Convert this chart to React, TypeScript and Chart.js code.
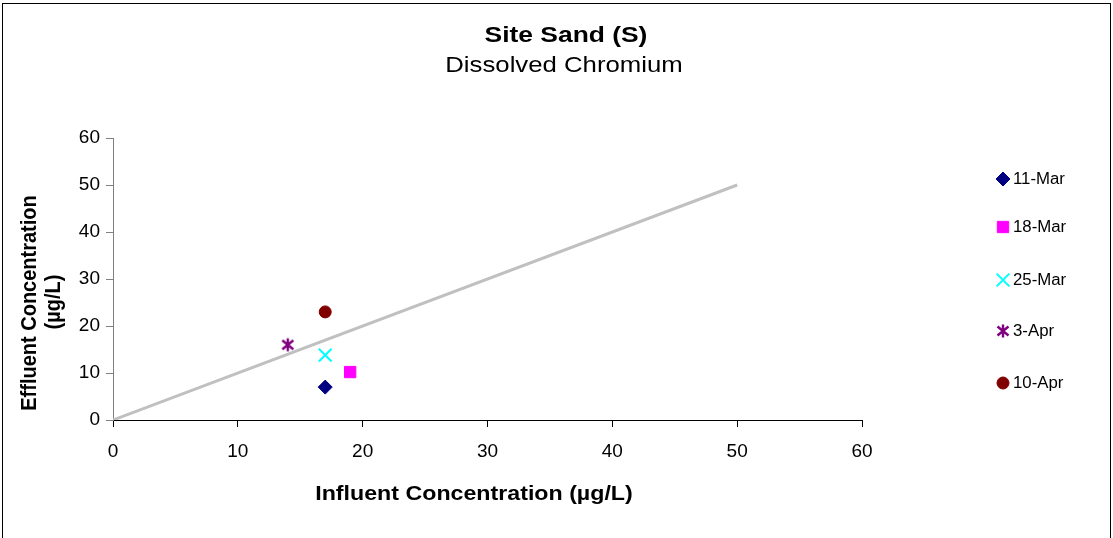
import React, { useEffect, useRef } from 'react';
import { Chart, registerables } from 'chart.js';
import { drawPoint } from 'chart.js/helpers';

Chart.register(...registerables);

// ---- data ----
const seriesLabels = ['11-Mar', '18-Mar', '25-Mar', '3-Apr', '10-Apr'];
const influentValues = [17, 19, 17, 14, 17];
const effluentValues = [7, 10.2, 13.8, 16, 23];
const refLineX = [0, 50];
const refLineY = [0, 50];
const axisMin = 0;
const axisMax = 60;
const axisStep = 10;

// ---- text ----
const chartTitle = 'Site Sand (S)';
const chartSubtitle = 'Dissolved Chromium';
const xAxisTitle = 'Influent Concentration (µg/L)';
const yAxisTitleLines = ['Effluent Concentration', '(µg/L)'];

// ---- styles ----
const markerColors = ['#000080', '#FF00FF', '#00FFFF', '#800080', '#800000'];
const FONT = '"Liberation Sans", Arial, sans-serif';

function makeStar(color: string) {
  const c = document.createElement('canvas');
  c.width = 16;
  c.height = 16;
  const g = c.getContext('2d')!;
  g.strokeStyle = color;
  g.lineWidth = 2.4;
  g.beginPath();
  g.moveTo(8, 1.5);
  g.lineTo(8, 14.5);
  g.moveTo(2.5, 3.5);
  g.lineTo(13.5, 12.5);
  g.moveTo(13.5, 3.5);
  g.lineTo(2.5, 12.5);
  g.stroke();
  return c;
}

function drawText(
  ctx: CanvasRenderingContext2D,
  text: string,
  x: number,
  y: number,
  font: string,
  sx: number,
  rotated = false,
  align: CanvasTextAlign = 'center'
) {
  ctx.save();
  ctx.translate(x, y);
  if (rotated) {
    ctx.rotate(-Math.PI / 2);
    ctx.scale(1, sx);
  } else {
    ctx.scale(sx, 1);
  }
  ctx.font = font;
  ctx.fillStyle = '#000';
  ctx.textAlign = align;
  ctx.textBaseline = 'middle';
  ctx.fillText(text, 0, 0);
  ctx.restore();
}

export default function App() {
  const ref = useRef<HTMLCanvasElement | null>(null);

  useEffect(() => {
    if (!ref.current) return;
    const star = makeStar(markerColors[3]);
    const markerStyles: any[] = [
      { pointStyle: 'rectRot', radius: 7, borderWidth: 1 },
      { pointStyle: 'rect', radius: 8, borderWidth: 1 },
      { pointStyle: 'crossRot', radius: 9, borderWidth: 2 },
      { pointStyle: star, radius: 8, borderWidth: 1 },
      { pointStyle: 'circle', radius: 6, borderWidth: 1 },
    ];

    const pointSets = seriesLabels.map((label, i) => ({
      type: 'scatter' as const,
      label,
      data: [{ x: influentValues[i], y: effluentValues[i] }],
      backgroundColor: markerColors[i],
      borderColor: markerColors[i],
      pointStyle: markerStyles[i].pointStyle,
      pointRadius: markerStyles[i].radius,
      pointBorderWidth: markerStyles[i].borderWidth,
      showLine: false,
    }));

    const lineSet = {
      type: 'line' as const,
      label: 'line',
      data: refLineX.map((x, i) => ({ x, y: refLineY[i] })),
      borderColor: '#C0C0C0',
      borderWidth: 3,
      pointRadius: 0,
      fill: false,
      tension: 0,
    };

    const legendYs = [179, 227, 280, 331, 383];

    const decor = {
      id: 'decor',
      beforeDraw(chart: any) {
        const ctx = chart.ctx as CanvasRenderingContext2D;
        ctx.save();
        ctx.fillStyle = '#fff';
        ctx.fillRect(0, 0, chart.width, chart.height);
        ctx.strokeStyle = '#000';
        ctx.lineWidth = 1;
        ctx.strokeRect(2.5, 3.5, 1108, 600);
        ctx.restore();
      },
      afterDraw(chart: any) {
        const ctx = chart.ctx as CanvasRenderingContext2D;
        drawText(ctx, chartTitle, 566, 36, `bold 22px ${FONT}`, 1.2);
        drawText(ctx, chartSubtitle, 564, 66, `22px ${FONT}`, 1.17);
        drawText(ctx, xAxisTitle, 474, 494, `bold 20px ${FONT}`, 1.16);
        drawText(ctx, yAxisTitleLines[0], 30, 303, `bold 20px ${FONT}`, 1.12, true);
        drawText(ctx, yAxisTitleLines[1], 54, 302, `bold 20px ${FONT}`, 1.12, true);
        // legend
        seriesLabels.forEach((label, i) => {
          const y = legendYs[i];
          const st = markerStyles[i];
          ctx.save();
          ctx.fillStyle = markerColors[i];
          ctx.strokeStyle = markerColors[i];
          ctx.lineWidth = st.borderWidth;
          drawPoint(ctx, { pointStyle: st.pointStyle, radius: st.radius, rotation: 0, borderWidth: st.borderWidth } as any, 1003, y);
          ctx.restore();
          drawText(ctx, label, 1013, y + 1, `16px ${FONT}`, 1.05, false, 'left');
        });
      },
    };

    const chart = new Chart(ref.current, {
      type: 'scatter',
      data: { datasets: [...pointSets, lineSet] as any },
      options: {
        responsive: false,
        animation: false,
        devicePixelRatio: 1,
        layout: { padding: { left: 40, right: 251, top: 138, bottom: 78 } },
        plugins: {
          legend: { display: false },
          title: { display: false },
          tooltip: { enabled: false },
        },
        scales: {
          x: {
            type: 'linear',
            min: axisMin,
            max: axisMax,
            afterFit: (s: any) => {
              s.height = 40;
            },
            ticks: {
              stepSize: axisStep,
              color: '#000',
              font: { family: FONT, size: 19 },
              padding: 13,
              maxRotation: 0,
            },
            grid: {
              drawOnChartArea: false,
              drawTicks: true,
              tickLength: 7,
              color: '#000',
            },
            border: { color: '#000', width: 1 },
          },
          y: {
            type: 'linear',
            min: axisMin,
            max: axisMax,
            afterFit: (s: any) => {
              s.width = 73;
            },
            ticks: {
              stepSize: axisStep,
              color: '#000',
              font: { family: FONT, size: 19 },
              padding: 6,
            },
            grid: {
              drawOnChartArea: false,
              drawTicks: true,
              tickLength: 7,
              color: '#808080',
            },
            border: { color: '#808080', width: 1 },
          },
        },
      },
      plugins: [decor],
    });
    return () => chart.destroy();
  }, []);

  return (
    <div style={{ position: 'absolute', left: 0, top: 0, width: 1113, height: 538 }}>
      <canvas ref={ref} width={1113} height={538} style={{ width: 1113, height: 538, display: 'block' }} />
    </div>
  );
}
